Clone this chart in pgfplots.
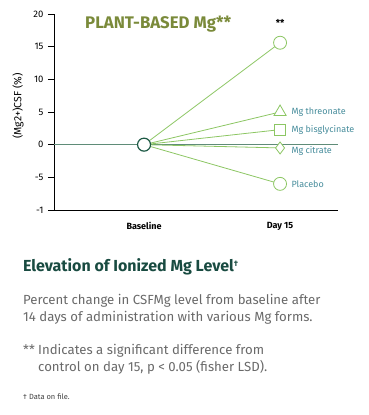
\documentclass[border=0pt]{standalone}
\usepackage{fontspec}
\setmainfont{Fira Sans}
\usepackage{pgfplots}
\pgfplotsset{compat=1.18}
\definecolor{lgreen}{RGB}{140,198,99}
\definecolor{dgreen}{RGB}{30,90,70}
\definecolor{zline}{RGB}{95,140,120}
\definecolor{olivet}{RGB}{122,138,58}
\definecolor{tealt}{RGB}{70,140,155}
\definecolor{head}{RGB}{25,75,65}
\definecolor{bodyc}{RGB}{105,105,105}
\begin{document}
\begin{tikzpicture}[x=1pt,y=1pt]
\path[use as bounding box] (0,0) rectangle (369,415);
\begin{axis}[at={(54pt,205pt)}, anchor=south west, scale only axis,
  width=284pt, height=196pt,
  xmin=-0.662, xmax=1.426, ymin=-10, ymax=20, clip=false,
  axis x line=bottom, axis y line=left,
  axis line style={-, line width=0.8pt, black},
  xtick={0,1}, xticklabels={Baseline,Day 15}, x tick style={draw=none},
  ytick={-10,-5,0,5,10,15,20}, yticklabels={-1,-5,0,5,10,15,20},
  y tick style={line width=0.8pt, black}, tick align=outside, major tick length=6pt,
  /pgf/number format/assume math mode=true,
  yticklabel style={font=\fontsize{9.5}{10}\selectfont, xshift=-1pt},
  xticklabel style={font=\fontsize{9}{10}\selectfont\bfseries, yshift=-3pt},
]
\addplot[zline, line width=1.6pt] coordinates {(-0.662,0) (1.426,0)};
\addplot[lgreen, line width=0.8pt, mark=*, mark indices={2}, mark size=6.5pt, mark options={fill=white, draw=lgreen, line width=0.8pt}] coordinates {(0,0) (1,15.6)};
\addplot[lgreen, line width=0.8pt, mark=triangle*, mark indices={2}, mark size=7pt, mark options={fill=white, draw=lgreen, line width=0.8pt}] coordinates {(0,0) (1,5.0)};
\addplot[lgreen, line width=0.8pt, mark=square*, mark indices={2}, mark size=5.5pt, mark options={fill=white, draw=lgreen, line width=0.8pt}] coordinates {(0,0) (1,2.3)};
\addplot[lgreen, line width=0.8pt, mark=diamond*, mark indices={2}, mark size=6pt, mark options={fill=white, draw=lgreen, line width=0.8pt}] coordinates {(0,0) (1,-0.5)};
\addplot[lgreen, line width=0.8pt, mark=*, mark indices={2}, mark size=6.5pt, mark options={fill=white, draw=lgreen, line width=0.8pt}] coordinates {(0,0) (1,-6.0)};
\addplot[dgreen, only marks, mark=*, mark size=6.5pt, mark options={fill=white, draw=dgreen, line width=1.2pt}] coordinates {(0,0)};
\node[anchor=west, text=tealt, font=\fontsize{9}{10}\selectfont] at (axis cs:1,5.0) [xshift=8pt] {Mg threonate};
\node[anchor=west, text=tealt, font=\fontsize{9}{10}\selectfont] at (axis cs:1,2.3) [xshift=8pt] {Mg bisglycinate};
\node[anchor=west, text=tealt, font=\fontsize{9}{10}\selectfont] at (axis cs:1,-0.9) [xshift=8pt] {Mg citrate};
\node[anchor=west, text=tealt, font=\fontsize{9}{10}\selectfont] at (axis cs:1,-6.0) [xshift=8pt] {Placebo};
\node[font=\fontsize{9.5}{10}\selectfont\bfseries] at (axis cs:1,18.7) {**};
\end{axis}
\node[rotate=90, font=\fontsize{10.5}{12}\selectfont] at (18,309) {(Mg2+)CSF (\%)};
\node[anchor=base west, text=olivet, font=\fontsize{16.8}{18}\selectfont\bfseries, inner sep=0pt] at (85,386) {PLANT-BASED Mg**};
\node[anchor=base west, text=head, font=\fontsize{16}{18}\selectfont\bfseries, inner sep=0pt] at (23,143) {Elevation of Ionized Mg Level{\fontsize{8}{9}\selectfont\raisebox{5pt}{\dag}}};
\node[anchor=base west, text=bodyc, font=\fontsize{13.2}{17}\selectfont, inner sep=0pt] at (23,110) {Percent change in CSFMg level from baseline after};
\node[anchor=base west, text=bodyc, font=\fontsize{13.2}{17}\selectfont, inner sep=0pt] at (23,93) {14 days of administration with various Mg forms.};
\node[anchor=base west, text=bodyc, font=\fontsize{13.2}{17}\selectfont, inner sep=0pt] at (23,60) {**};
\node[anchor=base west, text=bodyc, font=\fontsize{13.2}{17}\selectfont, inner sep=0pt] at (38,60) {Indicates a significant difference from};
\node[anchor=base west, text=bodyc, font=\fontsize{13.2}{17}\selectfont, inner sep=0pt] at (38,43) {control on day 15, p < 0.05 (fisher LSD).};
\node[anchor=base west, text=black!75, font=\fontsize{7.5}{8}\selectfont, inner sep=0pt] at (23,15) {\dag\ Data on file.};
\end{tikzpicture}
\end{document}
